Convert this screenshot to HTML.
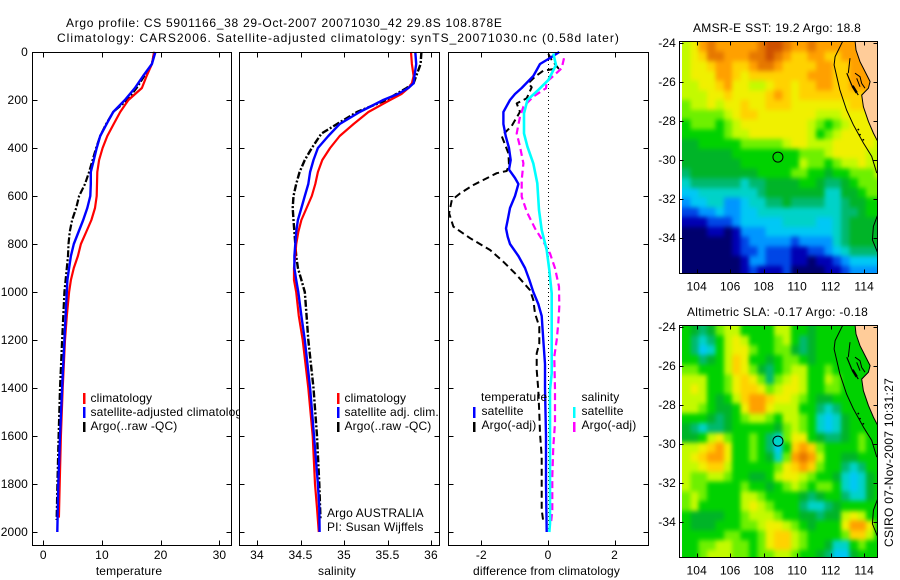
<!DOCTYPE html>
<html>
<head>
<meta charset="utf-8">
<title>Argo profile chart</title>
<style>
html,body{margin:0;padding:0;background:#fff;}
svg{display:block;}
text{font-family:"Liberation Sans",sans-serif;font-size:12px;fill:#000;letter-spacing:0.15px;}
</style>
</head>
<body>
<svg id="chart" xmlns="http://www.w3.org/2000/svg" width="900" height="580" viewBox="0 0 900 580">
  <defs>
    <clipPath id="clip-map-sst"><rect x="680" y="42" width="197.5" height="231"/></clipPath>
    <clipPath id="clip-map-sla"><rect x="680" y="326" width="197.5" height="231"/></clipPath>
    <filter id="map-smooth" x="-10%" y="-10%" width="120%" height="120%" color-interpolation-filters="sRGB">
      <feGaussianBlur stdDeviation="2.2 2.5"/>
    </filter>
  </defs>
  <rect x="0" y="0" width="900" height="580" fill="#fff"/>
  <text x="66" y="27" textLength="436" lengthAdjust="spacing">Argo profile: CS 5901166_38 29-Oct-2007 20071030_42 29.8S 108.878E</text>
  <text x="57" y="42" textLength="562" lengthAdjust="spacing">Climatology: CARS2006. Satellite-adjusted climatology: synTS_20071030.nc (0.58d later)</text>

  <g id="panel-temp"></g>
  <g>
    <rect x="83" y="393" width="2.5" height="11" fill="#f00"/>
    <text x="90.5" y="402">climatology</text>
    <rect x="83" y="407" width="2.5" height="11" fill="#00f"/>
    <text x="90.5" y="416">satellite-adjusted climatology</text>
    <rect x="83" y="422" width="2.5" height="10" fill="#000"/>
    <text x="90.5" y="430">Argo(..raw -QC)</text>
  </g>
  <text x="129" y="575" text-anchor="middle">temperature</text>

  <g id="panel-sal"></g>
  <g>
    <rect x="337" y="393" width="2.5" height="11" fill="#f00"/>
    <text x="344.5" y="402">climatology</text>
    <rect x="337" y="407" width="2.5" height="11" fill="#00f"/>
    <text x="344.5" y="416">satellite adj. clim.</text>
    <rect x="337" y="422" width="2.5" height="10" fill="#000"/>
    <text x="344.5" y="430">Argo(..raw -QC)</text>
    <text x="327" y="517">Argo AUSTRALIA</text>
    <text x="327" y="531">PI: Susan Wijffels</text>
  </g>
  <text x="337" y="575" text-anchor="middle">salinity</text>

  <g id="panel-diff"></g>
  <g>
    <text x="481" y="401">temperature</text>
    <rect x="473" y="407" width="2.5" height="11" fill="#00f"/>
    <text x="481.5" y="415">satellite</text>
    <rect x="473" y="422" width="2.5" height="10" fill="#000"/>
    <text x="481.5" y="429">Argo(-adj)</text>
    <text x="581.5" y="401">salinity</text>
    <rect x="573" y="407" width="2.5" height="11" fill="#0ff"/>
    <text x="581.5" y="415">satellite</text>
    <rect x="573" y="422" width="2.5" height="10" fill="#f0f"/>
    <text x="581.5" y="429">Argo(-adj)</text>
  </g>
  <text x="546.5" y="575" text-anchor="middle" textLength="147" lengthAdjust="spacing">difference from climatology</text>

  <g id="map-sst"></g>
  <text x="693" y="32" textLength="168" lengthAdjust="spacing">AMSR-E SST: 19.2  Argo: 18.8</text>
  <g id="map-sla"></g>
  <text x="687" y="316" textLength="181" lengthAdjust="spacing">Altimetric SLA: -0.17  Argo: -0.18</text>
  <text transform="translate(893,547) rotate(-90)" textLength="169" lengthAdjust="spacing">CSIRO 07-Nov-2007 10:31:27</text>
</svg>
<script>
// ---- depth axis ----
var depthTicks = [0,200,400,600,800,1000,1200,1400,1600,1800,2000];
var tempTicks = [0,10,20,30];
var salTicks = [34,34.5,35,35.5,36];
var diffTicks = [-2,0,2];
var mapLonTicks = [104,106,108,110,112,114];
var mapLatTicks = [24,26,28,30,32,34];

// ---- temperature panel ----
var tempClimDepth = [0,50,100,150,200,250,300,350,400,450,500,600,650,700,750,800,850,900,950,1000,1100,1200,1400,1600,1800,1940];
var tempClimValue = [18.9,18.5,17.6,16.8,14.5,13.1,12.0,10.9,10.1,9.5,9.2,9.1,8.8,8.2,7.3,6.4,5.9,5.2,4.7,4.4,4.0,3.7,3.3,3.0,2.8,2.65];
var tempSatDepth = [0,50,100,150,200,250,290,350,400,450,500,550,600,650,700,750,800,850,900,950,1000,1100,1200,1400,1600,1800,2000];
var tempSatValue = [19.1,18.5,17,15.6,13.9,11.9,11,9.7,9.1,8.6,8.1,8.1,8,7.5,6.8,6,5.2,4.7,4.4,4.1,4.0,3.8,3.6,3.2,2.84,2.56,2.39];
var tempArgoDepth = [0,50,100,150,200,250,300,350,400,450,500,550,600,650,700,750,800,850,900,950,1000,1200,1400,1600,1800,1950];
var tempArgoValue = [18.9,18.5,17.2,15.9,14.3,11.9,10.7,9.7,9,8.4,7.8,7.1,6.1,5.6,4.9,4.5,4.3,4.2,4,3.8,3.6,3.2,2.84,2.6,2.4,2.27];

// ---- salinity panel ----
var salClimDepth = [0,50,100,130,150,175,200,250,300,350,400,450,500,550,600,650,700,750,800,850,900,950,1000,1100,1200,1400,1600,1800,1900,2000];
var salClimValue = [35.77,35.78,35.80,35.78,35.74,35.66,35.53,35.28,35.11,34.95,34.84,34.75,34.70,34.67,34.63,34.57,34.51,34.475,34.45,34.44,34.425,34.425,34.45,34.48,34.525,34.59,34.64,34.667,34.69,34.71];
var salSatDepth = [0,50,100,130,150,175,200,250,300,350,400,450,500,550,600,650,700,750,800,850,900,950,1000,1100,1200,1400,1600,1800,1900,2000];
var salSatValue = [35.82,35.83,35.81,35.8,35.74,35.62,35.45,35.18,34.95,34.82,34.7,34.65,34.61,34.59,34.55,34.51,34.47,34.45,34.44,34.43,34.43,34.45,34.475,34.51,34.55,34.61,34.655,34.70,34.716,34.72];
var salArgoDepth = [0,50,100,130,150,175,200,250,300,340,400,450,500,550,600,650,700,750,800,850,900,950,1000,1100,1200,1400,1600,1800,1950];
var salArgoValue = [35.89,35.88,35.83,35.80,35.72,35.6,35.49,35.15,34.92,34.74,34.63,34.55,34.49,34.45,34.42,34.41,34.42,34.43,34.44,34.45,34.47,34.51,34.55,34.57,34.59,34.65,34.69,34.716,34.73];

// ---- difference panel ----
var diffTempSatDepth = [0,25,50,75,100,150,175,200,250,300,350,400,450,490,525,550,600,650,700,735,770,800,850,900,950,1000,1050,1100,1200,1300,1400,1600,1800,2000];
var diffTempSatValue = [0.34,0.06,-0.24,-0.34,-0.44,-0.79,-0.99,-1.14,-1.34,-1.34,-1.27,-1.17,-1.12,-1.17,-0.99,-0.89,-0.99,-1.14,-1.21,-1.26,-1.21,-1.14,-0.89,-0.69,-0.56,-0.44,-0.29,-0.19,-0.14,-0.09,-0.09,-0.06,-0.06,-0.04];
var diffTempArgoDepth = [8,33,68,78,103,130,147,193,214,249,308,350,422,471,496,505,554,589,617,672,728,776,825,874,929,992,1033,1089,1144,1214,1256,1325,1408,1506,1589,1686,1908,1957];
var diffTempArgoValue = [0.01,0.11,0.31,-0.14,-0.39,-0.59,-0.49,-0.64,-0.94,-0.84,-1.09,-1.39,-1.19,-1.17,-1.24,-1.54,-2.24,-2.64,-2.89,-2.97,-2.84,-2.34,-1.74,-1.34,-0.94,-0.54,-0.44,-0.39,-0.26,-0.26,-0.34,-0.34,-0.29,-0.26,-0.24,-0.19,-0.19,-0.14];
var diffSalSatDepth = [6,54,117,158,200,256,339,394,464,547,658,742,825,908,1006,1061,1130,1339,1408,1964,2000];
var diffSalSatValue = [0.16,0.24,0.01,-0.29,-0.62,-0.72,-0.72,-0.62,-0.44,-0.32,-0.27,-0.19,-0.04,0.04,0.11,0.11,0.11,0.11,0.06,0.06,0.04];
var diffSalArgoDepth = [26,68,100,124,151,186,228,269,339,394,464,533,603,665,735,790,839,901,978,1061,1130,1200,1269,1408,1547,1644,1769,1908,1964];
var diffSalArgoValue = [0.48,0.41,0.16,-0.04,-0.06,-0.44,-0.74,-0.84,-0.94,-0.84,-0.74,-0.79,-0.79,-0.64,-0.39,-0.14,0.06,0.21,0.33,0.34,0.31,0.26,0.19,0.21,0.21,0.16,0.13,0.13,0.09];
var zeroLineDepth = [0,2000];
var zeroLineValue = [0,0];

// ---- maps: colour levels on a 0 (coldest/lowest) to 15 (warmest/highest) scale, 0.5 degree cells ----
var sstLevels = [
[10,11,13,14,13,13,13,13,13,14,15,15,14,13,13,14,13,13,13,13,13,13,13,13],
[10,11,12,14,14,13,13,13,14,14,15,14,13,12,12,13,13,12,12,13,13,13,13,13],
[10,11,11,12,13,13,12,12,13,14,14,13,12,12,12,12,13,13,12,12,13,13,13,13],
[10,11,11,11,13,13,12,11,12,12,12,12,12,12,12,13,13,13,12,12,13,13,13,13],
[10,10,11,11,12,13,11,11,10,10,11,12,12,11,12,12,13,13,12,12,13,13,13,13],
[10,10,10,11,11,12,11,11,11,11,12,13,12,11,12,12,12,12,12,12,12,12,12,12],
[9,10,10,11,10,11,11,12,11,11,12,12,12,11,11,11,11,11,11,11,12,12,12,12],
[9,9,9,9,9,10,11,12,12,11,11,11,11,11,11,11,10,10,10,11,11,11,11,11],
[8,9,9,9,8,9,10,11,11,11,11,11,11,11,11,10,9,8,9,10,11,11,11,11],
[8,8,8,8,8,9,10,10,11,11,11,11,11,11,11,10,8,9,10,11,11,11,11,11],
[7,7,8,8,8,8,8,9,9,9,9,9,10,11,11,10,10,10,11,11,11,11,11,10],
[7,7,7,7,7,7,8,8,8,8,8,8,8,8,9,9,9,10,11,11,11,11,10,10],
[7,7,7,7,7,7,7,8,8,8,8,8,8,8,10,9,9,8,9,10,10,11,10,10],
[6,7,7,7,7,7,7,7,7,8,8,8,8,9,9,8,8,7,8,8,9,9,9,10],
[5,6,6,6,6,6,6,5,6,6,7,7,7,7,8,8,7,6,6,7,8,9,9,9],
[4,4,5,5,5,5,5,5,5,6,7,7,7,7,7,7,7,5,5,7,7,8,9,9],
[3,4,4,5,5,3,3,4,5,5,6,6,7,6,6,6,6,5,5,6,7,7,8,8],
[2,2,3,3,4,3,3,4,4,5,5,5,5,5,5,5,5,5,5,6,6,7,8,8],
[1,1,1,2,2,2,3,4,4,4,4,4,5,5,5,5,4,4,5,6,7,7,7,7],
[0,0,0,1,1,0,1,3,3,3,4,4,4,4,4,4,4,4,5,6,7,7,7,7],
[0,0,0,0,0,0,1,2,3,3,3,3,3,2,3,3,3,3,5,6,7,7,7,7],
[0,0,0,0,0,0,1,2,2,3,2,2,2,1,1,2,2,3,4,5,6,6,6,6],
[0,0,0,0,0,0,0,1,3,3,2,2,2,1,1,0,1,1,2,3,4,4,4,4],
[0,0,0,0,0,0,0,1,2,1,1,1,2,0,0,0,0,1,1,2,3,3,3,3]
];
var slaLevels = [
[8,7,6,7,9,10,10,8,8,8,8,10,10,8,8,7,8,8,8,8,8,8,8,8],
[8,6,5,6,8,10,11,10,8,8,8,9,10,8,6,7,8,8,8,8,8,8,8,8],
[8,6,4,5,8,10,11,11,9,8,8,9,9,7,6,7,8,8,8,8,8,8,8,8],
[8,8,6,7,8,10,12,11,8,8,7,8,9,9,8,7,8,8,8,8,8,8,8,8],
[9,9,8,8,8,10,12,11,9,7,6,8,9,10,10,8,8,9,8,8,8,8,8,8],
[10,10,10,8,8,9,11,12,11,9,6,9,10,11,10,8,8,10,9,8,8,8,8,8],
[10,11,10,8,8,9,11,12,12,11,9,10,11,11,10,8,8,9,9,8,8,8,8,8],
[10,10,10,8,7,8,10,12,13,13,12,11,11,10,9,8,7,7,8,8,8,8,8,8],
[10,10,9,8,7,7,8,11,13,13,11,10,10,10,8,8,6,5,6,8,8,8,8,8],
[8,8,8,7,6,7,8,9,10,10,9,8,10,10,9,8,5,4,5,7,8,8,8,8],
[7,6,5,6,6,7,8,8,8,8,8,7,9,10,9,8,5,4,5,7,8,8,8,8],
[7,7,8,10,11,9,8,8,9,8,6,5,9,11,11,8,7,6,6,7,8,9,8,8],
[10,10,11,12,13,11,8,8,9,8,6,4,8,12,13,12,9,8,8,8,8,9,8,8],
[10,11,12,13,13,11,8,8,9,8,7,5,9,13,14,13,10,8,8,7,7,8,8,8],
[10,10,11,12,12,10,8,8,8,8,8,9,11,12,13,12,9,8,8,6,5,6,8,8],
[10,9,9,10,10,9,8,8,7,7,8,10,11,11,10,9,8,8,7,5,4,5,7,8],
[10,9,9,8,8,8,8,9,8,8,7,8,9,10,9,8,9,9,8,5,4,5,7,8],
[9,10,9,8,8,8,8,10,10,9,8,8,8,8,7,6,7,8,8,6,5,5,7,8],
[9,10,8,8,8,8,8,10,11,10,9,8,8,8,6,5,5,6,7,8,8,8,8,8],
[8,7,7,7,7,8,8,9,10,10,10,9,8,8,7,7,6,7,7,10,11,10,8,8],
[8,7,7,7,8,8,8,9,9,10,11,11,10,9,8,7,8,8,8,11,13,13,11,8],
[8,8,8,8,8,9,9,8,8,9,11,12,12,10,9,8,8,8,8,9,12,12,10,8],
[8,8,9,9,10,10,9,9,8,9,11,12,12,10,9,8,8,7,5,5,8,9,8,8],
[8,8,9,10,10,10,9,9,8,9,9,10,10,9,8,8,7,6,4,4,7,8,8,8]
];
var landLon = [113.45,113.51,113.75,113.95,114.35,114.25,113.85,113.95,114.25,114.55,114.75,114.82,114.82];
var landLat = [23.85,24.36,24.96,25.3,25.98,26.32,26.67,27.27,28.02,28.62,28.96,29.06,23.85];
var shelfLon = [112.75,112.26,112.2,112.55,112.95,113.35,113.95,114.45,114.75];
var shelfLat = [23.85,24.7,25.13,26.41,27.44,28.19,29.13,29.81,30.67];
var southShelfLon = [114.81,114.55,114.49,114.81];
var southShelfLat = [32.8,33.4,34.09,34.77];
var peninsulaLon = [113.15,113.05];
var peninsulaLat = [24.78,25.55];
var bayShoreLon = [112.96,113.25,113.65];
var bayShoreLat = [25.55,26.15,26.67];
var bayIslandLon = [113.45,113.75,113.85,114.05];
var bayIslandLat = [25.55,25.73,26.07,26.32];
var bayInnerLon = [113.55,113.75];
var bayInnerLat = [25.81,26.24];
var bayBlobLon = [113.3,113.55];
var bayBlobLat = [26.2,26.55];
var islandDotLon = [113.65,113.75,113.95];
var islandDotLat = [28.44,28.70,28.96];
var floatLon = 108.85;
var floatLat = 29.85;
var sstFloatLevel = 8;
var slaFloatLevel = 5;

// ---- scales and helpers ----
var SVGNS = 'http://www.w3.org/2000/svg';
var levelColors = ['#00006e','#0000b4','#0046e6','#0096ff','#00c8f5','#00d2c8','#00b96e','#00b428','#00d200','#6ef000','#c3fa00','#f0f000','#ffd200','#ffa000','#e67800','#cd5000'];
function colorFor(v){
  var i = Math.max(0, Math.min(levelColors.length - 1, Math.round(v)));
  return levelColors[i];
}
function depthY(d){ return 52 + 0.24 * d; }
function tempX(t){ return 43.3 + 5.87 * t; }
function salX(s){ return 257 + 87 * (s - 34); }
function diffX(v){ return 548 + 33.3 * v; }
function lonX(lon){ return 696.7 + 16.75 * (lon - 104); }
function latY(lat, yTop){ return yTop + 19.5 * (lat - 24); }
function mk(parent, tag, attrs){
  var el = document.createElementNS(SVGNS, tag);
  for (var k in attrs) el.setAttribute(k, attrs[k]);
  parent.appendChild(el);
  return el;
}
function addText(parent, x, y, anchor, str, name){
  var el = mk(parent, 'text', {x:x, y:y, 'text-anchor':anchor});
  
  
  el.textContent = str;
  return el;
}
function addTick(parent, x1, y1, x2, y2, name){
  var el = mk(parent, 'line', {x1:x1, y1:y1, x2:x2, y2:y2, stroke:'#000', 'stroke-width':1, 'shape-rendering':'crispEdges'});
  
  
}
function drawProfile(parent, depths, values, xFn, color, width, dash, name){
  var pts = depths.map(function(d, i){ return xFn(values[i]).toFixed(1) + ',' + depthY(d).toFixed(1); }).join(' ');
  var el = mk(parent, 'polyline', {points:pts, fill:'none', stroke:color, 'stroke-width':width, 'stroke-linejoin':'round'});
  if (dash) el.setAttribute('stroke-dasharray', dash);
  
  
}
function drawFrame(parent, x0, x1, y0, y1, name){
  var el = mk(parent, 'rect', {x:x0, y:y0, width:x1 - x0, height:y1 - y0, fill:'none', stroke:'#000', 'stroke-width':1, 'shape-rendering':'crispEdges'});
  
  
}
function drawProfileAxes(parent, x0, x1, xFn, ticks, labels, showDepthLabels){
  var y0 = 52.5, y1 = 545.5;
  ticks.forEach(function(t, i){
    var x = Math.round(xFn(t)) + 0.5;
    addTick(parent, x, y0, x, y0 + 5, 'top-x-tick');
    addTick(parent, x, y1, x, y1 - 5, 'bottom-x-tick');
    addText(parent, xFn(t), 559, 'middle', labels[i], 'x-tick-label');
  });
  depthTicks.forEach(function(d){
    var y = Math.round(depthY(d)) + 0.5;
    addTick(parent, x0, y, x0 + 5, y, 'left-depth-tick');
    addTick(parent, x1, y, x1 - 5, y, 'right-depth-tick');
    if (showDepthLabels) addText(parent, 28, depthY(d) + 4, 'end', String(d), 'depth-tick-label');
  });
  drawFrame(parent, x0, x1, y0, y1, 'axes-frame');
}
function backdrop(parent, x0, x1){
  var el = mk(parent, 'rect', {x:x0, y:52.5, width:x1 - x0, height:493, fill:'#fff'});
  
  
}
function geoPoints(lons, lats, yTop){
  return lons.map(function(lon, i){ return lonX(lon).toFixed(1) + ',' + latY(lats[i], yTop).toFixed(1); }).join(' ');
}
function drawCoastLine(g, lons, lats, yTop, width, name){
  var el = mk(g, 'polyline', {points:geoPoints(lons, lats, yTop), fill:'none', stroke:'#000', 'stroke-width':width});
  
  
}
function drawMap(parent, levels, yTop, clipId, floatLevel){
  var boxTop = yTop - 1.5, boxBottom = yTop + 230.5;
  var g = mk(parent, 'g', {'clip-path':'url(#' + clipId + ')'});
  
  
  var cells = mk(g, 'g', {filter:'url(#map-smooth)'});
  
  
  levels.forEach(function(row, r){
    row.forEach(function(v, c){
      var lon0 = 103.12 + c * 0.5, lat0 = 23.93 + r * 0.5;
      var x = lonX(lon0), y = latY(lat0, yTop);
      var w = lonX(lon0 + 0.5) - x + 0.5, h = latY(lat0 + 0.5, yTop) - y + 0.5;
      if (c === 0) { x -= 12; w += 12; }
      if (r === 0) { y -= 12; h += 12; }
      if (c === row.length - 1) w += 12;
      if (r === levels.length - 1) h += 12;
      var cell = mk(cells, 'rect', {x:x.toFixed(1), y:y.toFixed(1), width:w.toFixed(1), height:h.toFixed(1), fill:colorFor(v), 'shape-rendering':'crispEdges'});
      
      
    });
  });
  var strip = mk(g, 'rect', {x:680, y:boxTop, width:2, height:boxBottom - boxTop, fill:'#fff'});
  
  
  var land = mk(g, 'polygon', {points:geoPoints(landLon, landLat, yTop), fill:'#ffcc99', stroke:'#000', 'stroke-width':1});
  
  
  drawCoastLine(g, shelfLon, shelfLat, yTop, 1, 'shelf-contour');
  drawCoastLine(g, southShelfLon, southShelfLat, yTop, 1, 'south-shelf-contour');
  drawCoastLine(g, peninsulaLon, peninsulaLat, yTop, 1, 'peninsula-coast');
  drawCoastLine(g, bayShoreLon, bayShoreLat, yTop, 1.2, 'bay-shore');
  drawCoastLine(g, bayIslandLon, bayIslandLat, yTop, 1, 'bay-island');
  drawCoastLine(g, bayInnerLon, bayInnerLat, yTop, 1, 'bay-inner-coast');
  drawCoastLine(g, bayBlobLon, bayBlobLat, yTop, 2.5, 'bay-dense-coast');
  islandDotLon.forEach(function(lon, i){
    var dot = mk(g, 'circle', {cx:lonX(lon), cy:latY(islandDotLat[i], yTop), r:0.9, fill:'#000'});
    
    
  });
  var marker = mk(g, 'circle', {cx:lonX(floatLon), cy:latY(floatLat, yTop), r:5, fill:colorFor(floatLevel), stroke:'#000', 'stroke-width':1});
  
  
  var x0 = 679.5, x1 = 877.5;
  mapLonTicks.forEach(function(lon){
    var x = Math.round(lonX(lon)) + 0.5;
    addTick(parent, x, boxTop, x, boxTop + 4, 'map-top-tick');
    addTick(parent, x, boxBottom, x, boxBottom - 4, 'map-bottom-tick');
    addText(parent, lonX(lon), boxBottom + 17, 'middle', String(lon), 'map-longitude-label');
  });
  mapLatTicks.forEach(function(lat){
    var y = Math.round(latY(lat, yTop)) + 0.5;
    addTick(parent, x0, y, x0 + 4, y, 'map-left-tick');
    addTick(parent, x1, y, x1 - 4, y, 'map-right-tick');
    addText(parent, 676, latY(lat, yTop) + 4, 'end', '-' + lat, 'map-latitude-label');
  });
  drawFrame(parent, x0, x1, boxTop, boxBottom, 'map-frame');
}

// ---- temperature panel ----
var pt = document.getElementById('panel-temp');
backdrop(pt, 32.5, 231.5);
drawProfile(pt, tempArgoDepth, tempArgoValue, tempX, '#000', 2.2, '7 2 2 2', 'temperature-argo-line');
drawProfile(pt, tempClimDepth, tempClimValue, tempX, '#f00', 2.2, '', 'temperature-climatology-line');
drawProfile(pt, tempSatDepth, tempSatValue, tempX, '#00f', 2.4, '', 'temperature-satellite-line');
drawProfileAxes(pt, 32.5, 231.5, tempX, tempTicks, tempTicks.map(String), true);

// ---- salinity panel ----
var ps = document.getElementById('panel-sal');
backdrop(ps, 239.5, 439.5);
drawProfile(ps, salArgoDepth, salArgoValue, salX, '#000', 2.4, '7 2 2 2', 'salinity-argo-line');
drawProfile(ps, salClimDepth, salClimValue, salX, '#f00', 2.2, '', 'salinity-climatology-line');
drawProfile(ps, salSatDepth, salSatValue, salX, '#00f', 2.4, '', 'salinity-satellite-line');
drawProfileAxes(ps, 239.5, 439.5, salX, salTicks, salTicks.map(String), false);

// ---- difference panel ----
var pd = document.getElementById('panel-diff');
backdrop(pd, 448.5, 648.5);
var zeroLine = mk(pd, 'line', {x1:diffX(zeroLineValue[0]) + 0.5, y1:depthY(zeroLineDepth[0]), x2:diffX(zeroLineValue[1]) + 0.5, y2:depthY(zeroLineDepth[1]), stroke:'#000', 'stroke-width':1, 'stroke-dasharray':'1 3'});


drawProfile(pd, diffTempArgoDepth, diffTempArgoValue, diffX, '#000', 2, '7 4', 'temperature-argo-difference-line');
drawProfile(pd, diffTempSatDepth, diffTempSatValue, diffX, '#00f', 2.4, '', 'temperature-satellite-difference-line');
drawProfile(pd, diffSalArgoDepth, diffSalArgoValue, diffX, '#f0f', 2.2, '7 4', 'salinity-argo-difference-line');
drawProfile(pd, diffSalSatDepth, diffSalSatValue, diffX, '#0ff', 2.6, '', 'salinity-satellite-difference-line');
drawProfileAxes(pd, 448.5, 648.5, diffX, diffTicks, diffTicks.map(String), false);

// ---- maps ----
drawMap(document.getElementById('map-sst'), sstLevels, 43, 'clip-map-sst', sstFloatLevel);
drawMap(document.getElementById('map-sla'), slaLevels, 327, 'clip-map-sla', slaFloatLevel);
</script>
</body>
</html>
